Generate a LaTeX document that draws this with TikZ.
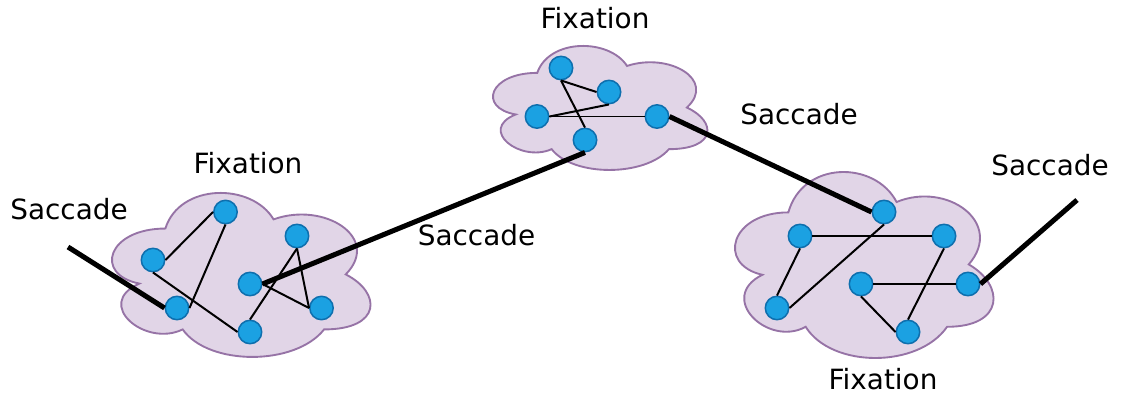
\documentclass[tikz,border=0pt]{standalone}
\usepackage{fontspec}
\setmainfont{DejaVu Sans}
\usetikzlibrary{%
  arrows,%
  calc%
}
\tikzset{>=latex}

\definecolor{cloudfill}{HTML}{E1D5E7}
\definecolor{cloudedge}{HTML}{9673A6}
\definecolor{dotfill}{HTML}{1BA1E2}
\definecolor{dotedge}{HTML}{0E6FAE}

\tikzset{%
  cloudline/.style={fill=cloudfill,draw=cloudedge,line width=1.6pt},
  gazept/.style={circle,fill=dotfill,draw=dotedge,line width=1.3pt,
    minimum size=20pt,inner sep=0pt},
  gaze/.style={line width=1.7pt},
  saccade/.style={line width=4.3pt},
  lbl/.style={anchor=base,inner sep=0pt,font=\fontsize{23.8}{28}\selectfont}
}

% cloud: left, top, width, height
\newcommand{\fixcloud}[4]{%
  \begin{scope}[shift={(#1,#2)},x={(#3*0.03cm,0pt)},y={(0pt,-#4*0.03cm)}]
    \draw[cloudline] (0.25,0.25)
      .. controls (0.05,0.25) and (0,0.5) .. (0.16,0.55)
      .. controls (0,0.66) and (0.18,0.9) .. (0.31,0.8)
      .. controls (0.4,1) and (0.7,1) .. (0.8,0.8)
      .. controls (1,0.8) and (1,0.6) .. (0.875,0.5)
      .. controls (1,0.3) and (0.8,0.1) .. (0.625,0.2)
      .. controls (0.55,0) and (0.3,0) .. (0.25,0.25) -- cycle;
  \end{scope}}

\begin{document}
\begin{tikzpicture}[x=0.03cm,y=-0.03cm]
    \useasboundingbox (0,0) rectangle (1121,396);

    \fixcloud{93.2}{182.7}{288.6}{183.4}
    \fixcloud{477.4}{38.2}{239.4}{138.7}
    \fixcloud{716.2}{160.4}{288.6}{208}

    \node[gazept] (a1) at (225.5,212) {};
    \node[gazept] (a2) at (153,260) {};
    \node[gazept] (a3) at (177,308) {};
    \node[gazept] (a4) at (250,332) {};
    \node[gazept] (a5) at (297,236) {};
    \node[gazept] (a6) at (250,284) {};
    \node[gazept] (a7) at (321.5,308) {};

    \node[gazept] (b1) at (561,68) {};
    \node[gazept] (b2) at (609,92) {};
    \node[gazept] (b3) at (537,116.5) {};
    \node[gazept] (b4) at (585,140) {};
    \node[gazept] (b5) at (657,116.5) {};

    \node[gazept] (c1) at (884,212) {};
    \node[gazept] (c2) at (800,236) {};
    \node[gazept] (c3) at (944,236) {};
    \node[gazept] (c4) at (777,308) {};
    \node[gazept] (c5) at (861,284) {};
    \node[gazept] (c6) at (968,284) {};
    \node[gazept] (c7) at (908,332) {};

    \draw[gaze] (a2.east) -- (a1.west);
    \draw[gaze] (a1.south) -- (a3.east);
    \draw[gaze] (a2.south) -- (a4.west);
    \draw[gaze] (a4.north) -- (a5.south);
    \draw[gaze] (a5.south) -- (a7.west);
    \draw[gaze] (a6.east) -- (a7.west);

    \draw[gaze] (b1.south) -- (b2.west);
    \draw[gaze] (b1.south) -- (b4.north);
    \draw[gaze] (b3.east) -- (b2.south);
    \draw[gaze] (b3.east) -- (b5.west);

    \draw[gaze] (c2.east) -- (c3.west);
    \draw[gaze] (c2.south) -- (c4.north);
    \draw[gaze] (c4.east) -- (c1.south);
    \draw[gaze] (c3.south) -- (c7.north);
    \draw[gaze] (c5.east) -- (c6.west);
    \draw[gaze] (c5.south) -- (c7.west);

    \coordinate (sacstart) at (68,247);
    \coordinate (sacend) at (1077,200);
    \draw[saccade] (sacstart) -- (a3.west);
    \draw[saccade] (a6.east) -- (b4.south);
    \draw[saccade] (b5.east) -- (c1.west);
    \draw[saccade] (c6.east) -- (sacend);

    \node[lbl] (fixleft) at (248,173) {Fixation};
    \node[lbl] (fixtop) at (595,29) {Fixation};
    \node[lbl] (fixbottom) at (883,389) {Fixation};
    \node[lbl] (sacleft) at (69,219) {Saccade};
    \node[lbl] (sacmidleft) at (476.5,245) {Saccade};
    \node[lbl] (sacmidright) at (799,124) {Saccade};
    \node[lbl] (sacright) at (1050,175) {Saccade};
\end{tikzpicture}
\end{document}
